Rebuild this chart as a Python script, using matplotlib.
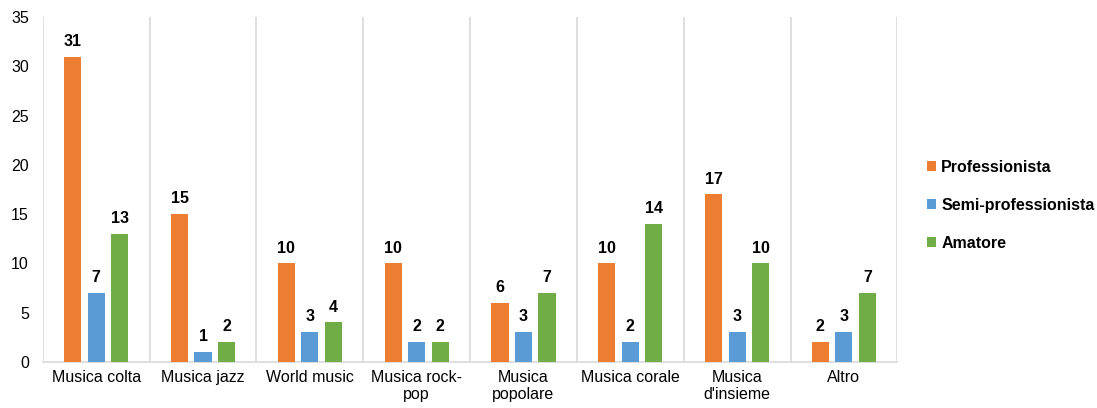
import matplotlib.pyplot as plt
import numpy as np

plt.rcParams['font.family'] = ['Liberation Sans', 'DejaVu Sans']

categorie = ["Musica colta", "Musica jazz", "World music", "Musica rock-\npop",
             "Musica\npopolare", "Musica corale", "Musica\nd'insieme", "Altro"]
professionista = [31, 15, 10, 10, 6, 10, 17, 2]
semi_prof = [7, 1, 3, 2, 3, 2, 3, 3]
amatore = [13, 2, 4, 2, 7, 14, 10, 7]

serie = [("Professionista", professionista, '#ED7D31'),
         ("Semi-professionista", semi_prof, '#5B9BD5'),
         ("Amatore", amatore, '#70AD47')]

fig = plt.figure(figsize=(10.97, 4.08), dpi=100)
ax = fig.add_axes([0.039, 0.113, 0.779, 0.845])

x = np.arange(len(categorie))
w = 0.16
passo = 0.22
for i, (nome, vals, col) in enumerate(serie):
    pos = x + (i - 1) * passo
    bars = ax.bar(pos, vals, w, color=col, label=nome, zorder=3)
    for b, v in zip(bars, vals):
        ax.text(b.get_x() + b.get_width() / 2, v + 0.8, str(v), ha='center',
                va='bottom', fontsize=11.5, fontweight='bold', color='#000000')

ax.set_xlim(-0.5, len(categorie) - 0.5)
ax.set_ylim(0, 35)
ax.set_yticks(range(0, 36, 5))
ax.set_xticks(x)
ax.set_xticklabels(categorie, fontsize=11.5, linespacing=1.15)
ax.tick_params(axis='y', labelsize=11.5, length=0, pad=10)
ax.tick_params(axis='x', length=0, pad=6)

# separatori verticali tra le categorie
for s in np.arange(-0.5, len(categorie), 1.0):
    ax.axvline(s, color='#d9d9d9', lw=1.2, zorder=1)

for side in ['top', 'right', 'left']:
    ax.spines[side].set_visible(False)
ax.spines['bottom'].set_color('#d9d9d9')
ax.spines['bottom'].set_linewidth(1.2)

leg = fig.legend(loc='center left', bbox_to_anchor=(0.845, 0.497), frameon=False,
                 borderpad=0, borderaxespad=0,
                 handlelength=0.55, handleheight=0.55, handletextpad=0.35,
                 labelspacing=1.45, prop={'size': 11.5, 'weight': 'bold'})

fig.savefig('out.png', dpi=100)
